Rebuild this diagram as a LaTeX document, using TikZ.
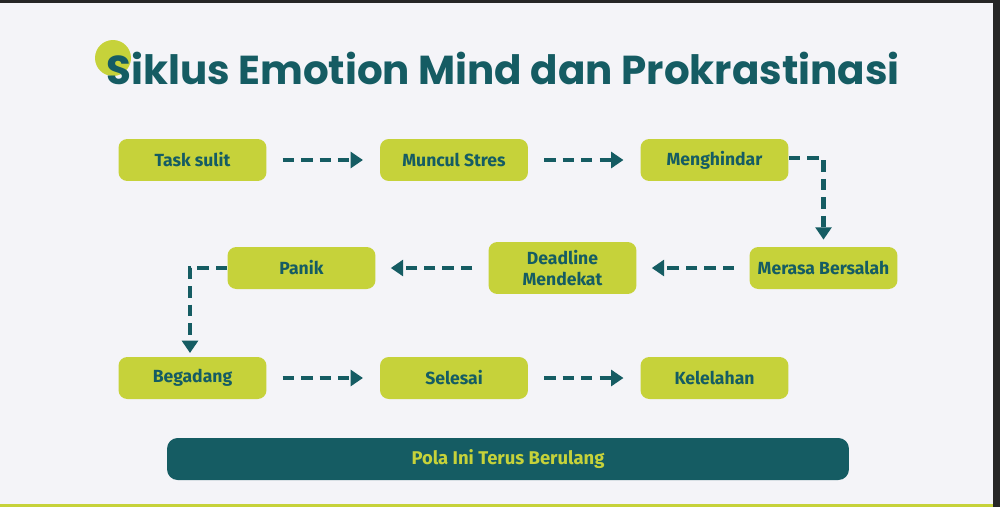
\documentclass[tikz,border=0pt]{standalone}
\usepackage{fontspec}
\setmainfont{Fira Sans}
\newfontfamily\titlefont{Poppins}
\usetikzlibrary{arrows.meta}
\definecolor{teal}{HTML}{155C63}
\definecolor{lime}{HTML}{C6D23A}
\definecolor{bg}{HTML}{F4F4F8}
\tikzset{
 box/.style={fill=lime, rounded corners=5pt, minimum width=2.96cm, minimum height=0.84cm, align=center, text=teal, font=\fontsize{10}{11.5}\selectfont\bfseries},
 flow/.style={draw=teal, line width=2.5pt, dash pattern=on 6.5pt off 4pt, -{Triangle[length=7pt,width=9pt]}}
}
\begin{document}
\begin{tikzpicture}[x=0.02cm,y=-0.02cm]
\fill[black!85] (0,0) rectangle (1000,507);
\fill[bg] (0,3) rectangle (993,507);
\fill[lime] (0,504) rectangle (993,507);
\useasboundingbox (0,0) rectangle (1000,507);
\fill[lime] (113,58) circle (18);
\node[anchor=west, text=teal, font=\titlefont\fontsize{23}{26}\selectfont\bfseries, inner sep=0] (title) at (106,68) {Siklus Emotion Mind dan Prokrastinasi};
\node[box] (a) at (192.5,160) {Task sulit};
\node[box] (b) at (454,160) {Muncul Stres};
\node[box] (c) at (714.5,160) {Menghindar};
\node[box] (d) at (823.5,268) {Merasa Bersalah};
\node[box, minimum height=1.04cm] (e) at (562.5,268) {Deadline\\Mendekat};
\node[box] (f) at (301.5,268) {Panik};
\node[box] (g) at (192.5,378) {Begadang};
\node[box] (h) at (454,378) {Selesai};
\node[box] (i) at (714.5,378) {Kelelahan};
\node[fill=teal, rounded corners=6pt, minimum width=13.64cm, minimum height=0.84cm, text=lime, font=\fontsize{10.5}{12}\selectfont\bfseries] (p) at (508,459) {Pola Ini Terus Berulang};
\draw[flow] ([xshift=9pt]a.east) -- ([xshift=-9.5pt]b.west);
\draw[flow] ([xshift=9pt]b.east) -- ([xshift=-9.5pt]c.west);
\draw[flow] ([yshift=1pt]c.east) -| ([yshift=4pt]d.north);
\draw[flow] ([xshift=-8.5pt]d.west) -- ([xshift=8.5pt]e.east);
\draw[flow] ([xshift=-9pt]e.west) -- ([xshift=8.5pt]f.east);
\coordinate (gt) at (190,353);
\draw[flow] (f.west) -| (gt);
\draw[flow] ([xshift=9pt]g.east) -- ([xshift=-9.5pt]h.west);
\draw[flow] ([xshift=9pt]h.east) -- ([xshift=-9.5pt]i.west);
\end{tikzpicture}
\end{document}
